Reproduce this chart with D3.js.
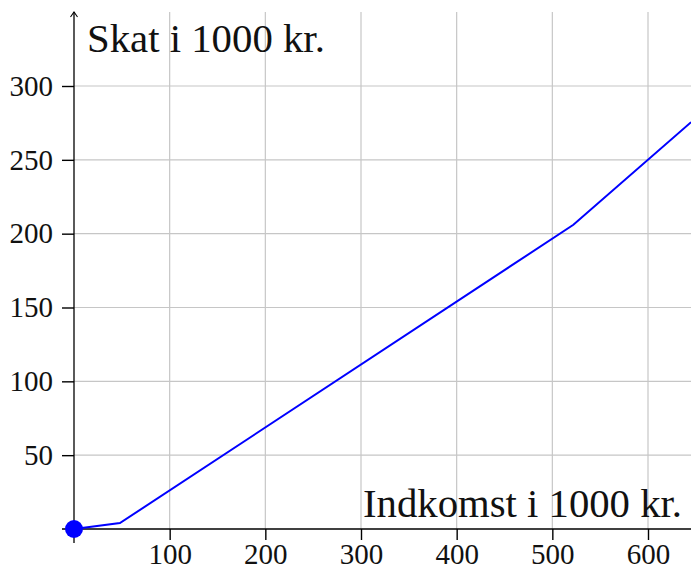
<!DOCTYPE html>
<html><head><meta charset="utf-8">
<script src="https://cdn.jsdelivr.net/npm/d3@7"></script>
<style>body{margin:0;background:#fff}svg{display:block}text{font-family:"Liberation Serif","DejaVu Serif",serif;fill:#111}</style>
</head><body>
<script>
const incomeValues = [0, 48, 522, 645];
const taxValues = [0, 4, 206, 275.5];
const xTickValues = [100, 200, 300, 400, 500, 600];
const yTickValues = [50, 100, 150, 200, 250, 300];
const xLabel = "Indkomst i 1000 kr.";
const yLabel = "Skat i 1000 kr.";

const W = 691, H = 570;
const svg = d3.select("body").append("svg").attr("width", W).attr("height", H);
const x = d3.scaleLinear().domain([0, 600]).range([74, 648]);
const y = d3.scaleLinear().domain([0, 300]).range([529, 86]);
const axisTop = 12;

// grid
svg.append("g").selectAll("line").data(xTickValues).join("line")
  .attr("x1", d => x(d)).attr("x2", d => x(d)).attr("y1", axisTop).attr("y2", y(0))
  .attr("stroke", "#c6c6c6").attr("stroke-width", 1.2);
svg.append("g").selectAll("line").data(yTickValues).join("line")
  .attr("y1", d => y(d)).attr("y2", d => y(d)).attr("x1", x(0)).attr("x2", W)
  .attr("stroke", "#c6c6c6").attr("stroke-width", 1.2);

// axes
const xAxis = d3.axisBottom(x).tickValues(xTickValues).tickSize(11).tickPadding(3).tickFormat(d3.format("d"));
const gx = svg.append("g").attr("transform", `translate(0,${y(0)})`).call(xAxis);
gx.select(".domain").remove();
gx.selectAll(".tick line").attr("stroke", "#000").attr("stroke-width", 1.4);
const yAxis = d3.axisLeft(y).tickValues(yTickValues).tickSize(12).tickPadding(9).tickFormat(d3.format("d"));
const gy = svg.append("g").attr("transform", `translate(${x(0)},0)`).call(yAxis);
gy.select(".domain").remove();
gy.selectAll(".tick line").attr("stroke", "#000").attr("stroke-width", 1.4);
svg.selectAll("g").attr("font-family", null).attr("font-size", null);
svg.selectAll(".tick text").attr("font-size", 29).attr("fill", "#111");

svg.append("line").attr("x1", 62).attr("x2", W).attr("y1", y(0)).attr("y2", y(0)).attr("stroke", "#000").attr("stroke-width", 1.3);
svg.append("line").attr("x1", x(0)).attr("x2", x(0)).attr("y1", axisTop).attr("y2", 543).attr("stroke", "#000").attr("stroke-width", 1.3);
svg.append("path").attr("d", `M${x(0)-3.5},${axisTop+5} L${x(0)},${axisTop} L${x(0)+3.5},${axisTop+5}`).attr("fill", "none").attr("stroke", "#000").attr("stroke-width", 1.1);

// line
const pts = incomeValues.map((v, i) => [v, taxValues[i]]);
svg.append("path").datum(pts)
  .attr("d", d3.line().x(d => x(d[0])).y(d => y(d[1])))
  .attr("fill", "none").attr("stroke", "#0000ff").attr("stroke-width", 2);
svg.append("circle").attr("cx", x(0)).attr("cy", y(0)).attr("r", 9).attr("fill", "#0000ff");

// labels
function fitText(t, w) { const l = t.node().getComputedTextLength(); const fs = +t.attr("font-size"); t.attr("font-size", fs * w / l); }
const yl = svg.append("text").attr("x", 87).attr("y", 52).attr("font-size", 34).text(yLabel);
fitText(yl, 238);
const xl = svg.append("text").attr("x", 682).attr("y", 517).attr("text-anchor", "end").attr("font-size", 34).text(xLabel);
fitText(xl, 319);
</script>
</body></html>
